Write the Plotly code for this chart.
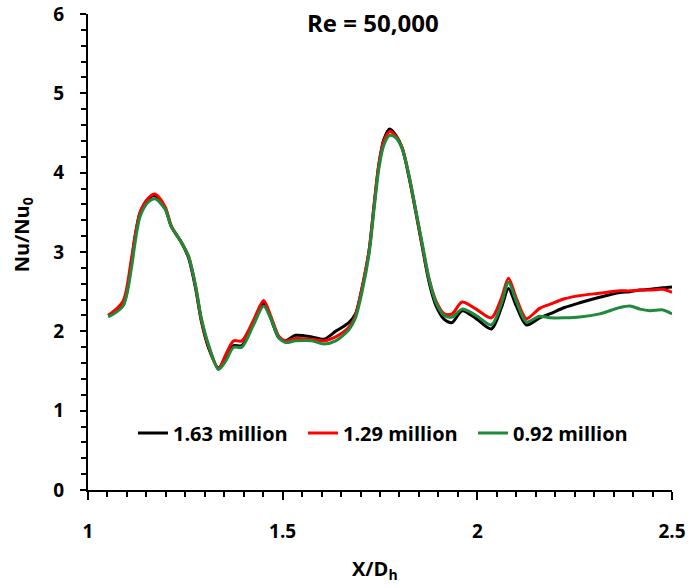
import plotly.graph_objects as go

x_vals = [1.052, 1.090, 1.111, 1.121, 1.134, 1.155, 1.172, 1.198, 1.214, 1.240,
          1.258, 1.276, 1.291, 1.309, 1.335, 1.353, 1.374, 1.395, 1.425, 1.451,
          1.469, 1.490, 1.507, 1.533, 1.575, 1.606, 1.636, 1.670, 1.687, 1.704,
          1.722, 1.735, 1.747, 1.760, 1.775, 1.791, 1.807, 1.825, 1.842, 1.858,
          1.876, 1.894, 1.915, 1.935, 1.961, 1.997, 2.036, 2.062, 2.080, 2.100,
          2.126, 2.160, 2.186, 2.224, 2.263, 2.314, 2.366, 2.392, 2.418, 2.443,
          2.477, 2.500]

nu_163 = [2.20, 2.33, 2.85, 3.20, 3.50, 3.67, 3.71, 3.55, 3.32, 3.12,
          2.93, 2.55, 2.13, 1.80, 1.54, 1.66, 1.82, 1.82, 2.10, 2.35,
          2.17, 1.92, 1.88, 1.95, 1.93, 1.90, 2.00, 2.11, 2.22, 2.55,
          3.02, 3.60, 4.10, 4.42, 4.55, 4.47, 4.31, 3.93, 3.50, 3.08,
          2.62, 2.32, 2.15, 2.11, 2.26, 2.16, 2.03, 2.30, 2.54, 2.32,
          2.08, 2.17, 2.22, 2.30, 2.36, 2.43, 2.49, 2.50, 2.52, 2.53,
          2.55, 2.56]

nu_129 = [2.20, 2.38, 2.90, 3.20, 3.50, 3.68, 3.73, 3.57, 3.33, 3.12,
          2.95, 2.58, 2.15, 1.82, 1.53, 1.70, 1.88, 1.88, 2.14, 2.39,
          2.20, 1.94, 1.88, 1.91, 1.90, 1.88, 1.93, 2.05, 2.20, 2.55,
          3.02, 3.60, 4.10, 4.40, 4.52, 4.46, 4.31, 3.95, 3.52, 3.10,
          2.66, 2.38, 2.22, 2.22, 2.37, 2.28, 2.17, 2.42, 2.67, 2.42,
          2.16, 2.29, 2.34, 2.41, 2.45, 2.48, 2.51, 2.51, 2.52, 2.52,
          2.53, 2.49]

nu_092 = [2.18, 2.32, 2.78, 3.12, 3.45, 3.63, 3.67, 3.54, 3.32, 3.12,
          2.95, 2.58, 2.17, 1.84, 1.52, 1.62, 1.80, 1.80, 2.08, 2.32,
          2.17, 1.92, 1.86, 1.88, 1.88, 1.84, 1.88, 2.02, 2.17, 2.50,
          2.98, 3.55, 4.05, 4.35, 4.47, 4.44, 4.30, 3.95, 3.52, 3.12,
          2.66, 2.36, 2.20, 2.18, 2.28, 2.20, 2.08, 2.35, 2.62, 2.38,
          2.12, 2.19, 2.17, 2.17, 2.18, 2.22, 2.30, 2.32, 2.28, 2.26,
          2.27, 2.22]

series_names = ["1.63 million", "1.29 million", "0.92 million"]
series_colors = ["#000000", "#ff0000", "#1e8a3a"]
series_vals = [nu_163, nu_129, nu_092]

x_ticks = [1, 1.5, 2, 2.5]
x_ticktext = ["1", "1.5", "2", "2.5"]
y_ticks = [0, 1, 2, 3, 4, 5, 6]

FONT = "Open Sans"

fig = go.Figure()
for name, col, vals in zip(series_names, series_colors, series_vals):
    fig.add_trace(go.Scatter(
        x=x_vals, y=vals, mode="lines", name=name,
        line=dict(color=col, width=3, shape="spline", smoothing=0.8),
    ))

fig.update_layout(
    width=690, height=588,
    margin=dict(l=88, r=18, t=14, b=98),
    plot_bgcolor="white", paper_bgcolor="white",
    font=dict(family=FONT, size=19, color="black", weight="bold"),
    showlegend=True,
    legend=dict(
        orientation="h", x=0.077, y=0.12, xanchor="left", yanchor="middle",
        font=dict(family=FONT, size=20, color="black", weight="bold"),
        bgcolor="rgba(0,0,0,0)", itemwidth=30, tracegroupgap=0,
        entrywidth=125, entrywidthmode="pixels",
    ),
    xaxis=dict(
        range=[1, 2.5], tickvals=x_ticks, ticktext=x_ticktext,
        showline=True, linecolor="black", linewidth=2,
        ticks="outside", ticklen=8, tickwidth=2, tickcolor="black",
        showgrid=False, zeroline=False, ticklabelstandoff=15,
        automargin=False, ticklabeloverflow="allow",
        tickfont=dict(family=FONT, size=19, color="black", weight="bold"),
        minor=dict(dtick=0.05, ticks="outside", ticklen=5, tickwidth=1.5,
                   tickcolor="black", showgrid=False),
    ),
    yaxis=dict(
        range=[0, 6], tickvals=y_ticks,
        showline=True, linecolor="black", linewidth=2,
        ticks="outside", ticklen=6, tickwidth=2, tickcolor="black",
        showgrid=False, zeroline=False, ticklabelstandoff=12,
        automargin=False, ticklabeloverflow="allow",
        tickfont=dict(family=FONT, size=19, color="black", weight="bold"),
        minor=dict(dtick=0.2, ticks="outside", ticklen=5, tickwidth=1.5,
                   tickcolor="black", showgrid=False),
    ),
    annotations=[
        dict(text="Re = 50,000", xref="paper", yref="paper", x=0.488, y=0.982,
             xanchor="center", yanchor="middle", showarrow=False,
             font=dict(family=FONT, size=24, color="black", weight="bold")),
        dict(text="X/D<sub>h</sub>", xref="paper", yref="paper", x=0.492, y=-0.168,
             xanchor="center", yanchor="middle", showarrow=False,
             font=dict(family=FONT, size=20, color="black", weight="bold")),
        dict(text="Nu/Nu<sub>0</sub>", xref="paper", yref="paper", x=-0.113, y=0.535,
             xanchor="center", yanchor="middle", showarrow=False, textangle=-90,
             font=dict(family=FONT, size=20, color="black", weight="bold")),
    ],
)

fig.write_html("out.html")
